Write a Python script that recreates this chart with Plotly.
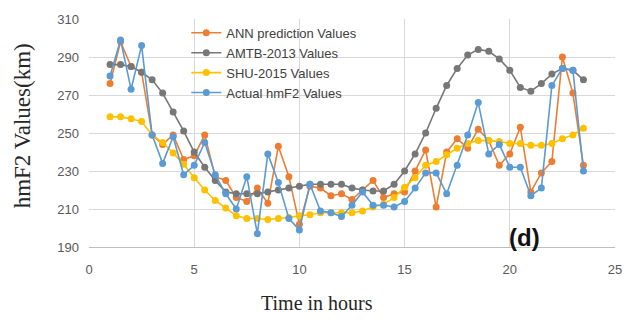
import plotly.graph_objects as go

hours = [1, 1.5, 2, 2.5, 3, 3.5, 4, 4.5, 5, 5.5, 6, 6.5, 7, 7.5, 8, 8.5, 9, 9.5,
         10, 10.5, 11, 11.5, 12, 12.5, 13, 13.5, 14, 14.5, 15, 15.5, 16, 16.5,
         17, 17.5, 18, 18.5, 19, 19.5, 20, 20.5, 21, 21.5, 22, 22.5, 23, 23.5]

ann_values = [276, 298, 285, 282, 249, 244, 249, 236, 238, 249, 227, 225, 216, 214,
              221, 213, 243, 227, 202, 222, 221, 217, 218, 215, 220, 225, 216, 218,
              219, 230, 241, 211, 240, 247, 242, 252, 246, 233, 239, 253, 219, 229,
              235, 290, 271, 233]

amtb_values = [286, 286, 285, 282, 278, 271, 261, 251, 240, 232, 225, 219, 218, 218,
               218, 219, 220, 221, 222, 223, 223, 223, 223, 221, 220, 219.5, 219.5,
               223, 230, 239, 250, 263, 275, 284, 291, 294, 293, 289, 283, 274, 272,
               276, 281, 284, 283, 278]

shu_values = [258.5, 258.5, 257.5, 256, 249, 245, 239.5, 233.5, 226.5, 220, 214.5,
              210.5, 206.5, 205, 205, 204.5, 205, 205.5, 206.5, 207, 208, 208, 208,
              208, 209, 211, 212.5, 216, 221.5, 226.5, 233, 235, 238.5, 242, 244.5,
              246, 246, 245.5, 244.5, 244.5, 243.5, 243.5, 244.5, 247, 249, 252.5]

actual_values = [280, 299, 273, 296, 249, 234, 248, 228, 233, 245, 228, 218, 210, 227,
                 197, 239, 224, 205, 199, 223, 209, 208, 206, 212, 219, 212, 212, 211,
                 214, 221, 229, 229, 218, 233, 249, 266, 239, 244, 232, 232, 217, 221,
                 275, 284, 283, 230]

series_names = ["ANN prediction Values", "AMTB-2013 Values", "SHU-2015 Values",
                "Actual hmF2 Values"]
series_colors = ["#ED7D31", "#777777", "#FFC000", "#5B9BD5"]
series_values = [ann_values, amtb_values, shu_values, actual_values]

x_ticks = [0, 5, 10, 15, 20, 25]
y_ticks = [190, 210, 230, 250, 270, 290, 310]

fig = go.Figure()
for name, color, vals in zip(series_names, series_colors, series_values):
    fig.add_trace(go.Scatter(
        x=hours, y=vals, mode="lines+markers", name=name,
        line=dict(color=color, width=1.6),
        marker=dict(color=color, size=7),
    ))

fig.update_layout(
    width=634, height=323,
    margin=dict(l=89, r=18, t=16, b=76),
    paper_bgcolor="white", plot_bgcolor="white",
    font=dict(family="Liberation Sans", size=13, color="#595959"),
    showlegend=True,
    legend=dict(
        x=0.185, y=1.005, xanchor="left", yanchor="top",
        bgcolor="rgba(0,0,0,0)", font=dict(size=13, color="#404040"),
        itemwidth=30, tracegroupgap=0,
    ),
    xaxis=dict(
        range=[0, 25], tickvals=x_ticks, ticktext=[str(v) for v in x_ticks],
        showgrid=True, gridcolor="#d9d9d9", gridwidth=1,
        zeroline=False, showline=True, linecolor="#bfbfbf", linewidth=1,
        ticks="", ticklabelstandoff=10, tickfont=dict(size=13, color="#595959"),
    ),
    yaxis=dict(
        range=[190, 310], tickvals=y_ticks, ticktext=[str(v) for v in y_ticks],
        showgrid=True, gridcolor="#d9d9d9", gridwidth=1,
        zeroline=False, showline=False,
        ticks="", ticklabelstandoff=9, tickfont=dict(size=13, color="#595959"),
    ),
    annotations=[
        dict(text="Time in hours", xref="paper", yref="paper", x=0.4335, y=-0.245,
             xanchor="center", yanchor="middle", showarrow=False,
             font=dict(family="Liberation Serif", size=20, color="#262626")),
        dict(text="hmF2 Values(km)", xref="paper", yref="paper", x=-0.127, y=0.53,
             xanchor="center", yanchor="middle", showarrow=False, textangle=-90,
             font=dict(family="Liberation Serif", size=23, color="#262626")),
        dict(text="<b>(d)</b>", xref="x", yref="y", x=20.7, y=195,
             xanchor="center", yanchor="middle", showarrow=False,
             font=dict(family="Liberation Sans", size=24, color="#111111")),
    ],
)

fig.write_html("out.html")
